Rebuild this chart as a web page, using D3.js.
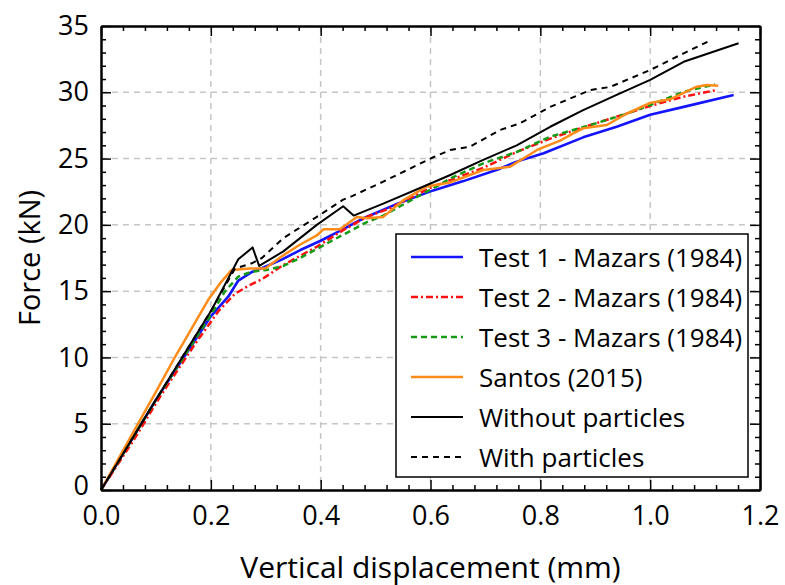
<!DOCTYPE html>
<html lang="en">
<head>
  <meta charset="UTF-8" />
  <title>Force - displacement</title>
  <script src="https://cdn.jsdelivr.net/npm/d3@7/dist/d3.min.js"></script>
  <style>
    body { margin: 0; background: #fff; }
    svg text { font-family: "Open Sans", sans-serif; fill: #000; }
  </style>
</head>
<body>
<script>
    // displacement (mm), force (kN)
    var test1 = [[0,0],[0.1,6.8],[0.2,13.1],[0.232,14.6],[0.25,15.8],[0.275,16.45],[0.297,16.8],[0.33,17.4],[0.363,18.1],[0.4,18.8],[0.435,19.55],[0.478,20.5],[0.54,21.6],[0.605,22.6],[0.66,23.3],[0.724,24.2],[0.757,24.77],[0.806,25.4],[0.878,26.6],[0.939,27.4],[1.0,28.3],[1.061,28.9],[1.152,29.8]];
    var test2 = [[0,0],[0.06,3.8],[0.11,7.2],[0.171,11.0],[0.214,13.5],[0.244,14.8],[0.271,15.46],[0.293,15.9],[0.332,16.97],[0.393,18.35],[0.441,19.6],[0.484,20.6],[0.526,21.25],[0.605,22.9],[0.636,23.38],[0.696,24.3],[0.757,25.5],[0.818,26.5],[0.878,27.36],[0.939,28.16],[1.0,28.97],[1.061,29.67],[1.121,30.17]];
    var test3 = [[0,0],[0.1,6.8],[0.2,13.2],[0.226,15.0],[0.25,16.1],[0.2745,16.47],[0.302,16.6],[0.332,16.9],[0.3625,17.5],[0.423,18.86],[0.484,20.2],[0.514,20.7],[0.575,22.1],[0.611,22.9],[0.636,23.5],[0.696,24.64],[0.757,25.5],[0.818,26.65],[0.891,27.53],[0.951,28.3],[1.0,29.04],[1.061,30.04],[1.118,30.6]];
    var santos = [[0,0],[0.05,3.7],[0.1,7.4],[0.135,10.05],[0.195,14.33],[0.217,15.6],[0.238,16.6],[0.271,16.7],[0.299,16.7],[0.332,17.7],[0.362,18.5],[0.393,19.2],[0.405,19.66],[0.435,19.66],[0.466,20.6],[0.484,20.5],[0.514,20.6],[0.551,21.87],[0.593,22.9],[0.636,23.2],[0.696,24.14],[0.745,24.39],[0.794,25.65],[0.836,26.35],[0.86,26.9],[0.878,27.28],[0.921,27.53],[0.958,28.4],[1.0,29.2],[1.036,29.47],[1.085,30.42],[1.103,30.55],[1.124,30.5]];
    var withoutParticles = [[0,0],[0.1,6.8],[0.2016,13.6],[0.25,17.4],[0.276,18.3],[0.288,16.9],[0.332,18.0],[0.393,20.0],[0.441,21.4],[0.46,20.7],[0.514,21.6],[0.599,23.1],[0.636,23.76],[0.696,24.9],[0.757,26.0],[0.818,27.4],[0.878,28.66],[0.939,29.8],[1.0,30.93],[1.061,32.3],[1.161,33.7]];
    var withParticles = [[0,0],[0.1,6.8],[0.2,13.5],[0.244,16.7],[0.2745,17.1],[0.293,17.5],[0.332,19.0],[0.393,20.6],[0.441,21.9],[0.4536,22.1],[0.514,23.26],[0.5386,23.76],[0.605,25.1],[0.636,25.65],[0.672,25.9],[0.727,27.16],[0.763,27.66],[0.818,28.9],[0.891,30.17],[0.927,30.4],[1.0,31.68],[1.061,32.94],[1.109,33.9]];

    var seriesNames = ["Test 1 - Mazars (1984)", "Test 2 - Mazars (1984)", "Test 3 - Mazars (1984)", "Santos (2015)", "Without particles", "With particles"];
    var xTicks = [0, 0.2, 0.4, 0.6, 0.8, 1.0, 1.2];
    var yTicks = [0, 5, 10, 15, 20, 25, 30, 35];

    var series = [
        {name: seriesNames[0], data: test1, color: "#1414ff", dash: null, w: 2.6},
        {name: seriesNames[1], data: test2, color: "#ff1010", dash: "7,3,2,3", w: 2.5},
        {name: seriesNames[2], data: test3, color: "#169b16", dash: "6,4", w: 2.5},
        {name: seriesNames[3], data: santos, color: "#ff8c1a", dash: null, w: 2.5},
        {name: seriesNames[4], data: withoutParticles, color: "#000", dash: null, w: 2},
        {name: seriesNames[5], data: withParticles, color: "#000", dash: "6,5", w: 2}
    ];

    var W = 785, H = 585;
    var margin = {top: 26, right: 25, bottom: 95, left: 101};
    var width = W - margin.left - margin.right;
    var height = H - margin.top - margin.bottom;

    var svg = d3.select("body").append("svg")
        .attr("width", W).attr("height", H);
    var g = svg.append("g")
        .attr("transform", "translate(" + margin.left + "," + margin.top + ")");

    var x = d3.scaleLinear().domain([0, 1.2]).range([0, width]);
    var y = d3.scaleLinear().domain([0, 35]).range([height, 0]);

    // grid
    g.append("g").selectAll("line")
        .data(xTicks.slice(1, -1)).enter().append("line")
        .attr("x1", d => x(d)).attr("x2", d => x(d))
        .attr("y1", 0).attr("y2", height)
        .attr("stroke", "#c6c6c6").attr("stroke-width", 1.5).attr("stroke-dasharray", "6,5");
    g.append("g").selectAll("line")
        .data(yTicks.slice(1, -1)).enter().append("line")
        .attr("y1", d => y(d)).attr("y2", d => y(d))
        .attr("x1", 0).attr("x2", width)
        .attr("stroke", "#c6c6c6").attr("stroke-width", 1.5).attr("stroke-dasharray", "6,5");

    // curves
    var line = d3.line().x(d => x(d[0])).y(d => y(d[1]));
    g.append("g").selectAll("path")
        .data(series).enter().append("path")
        .attr("d", d => line(d.data))
        .attr("fill", "none")
        .attr("stroke", d => d.color)
        .attr("stroke-width", d => d.w)
        .attr("stroke-linejoin", "round")
        .attr("stroke-dasharray", d => d.dash);

    // axes, ticks pointing inwards on all four sides
    var xMinor = d3.range(0, 1.2001, 0.04).filter(v => Math.abs(v / 0.2 - Math.round(v / 0.2)) > 0.01);
    var yMinor = d3.range(0, 35.5, 1).filter(v => v % 5 != 0);
    var fmtX = d3.format(".1f");

    function styleAxis(sel) {
        sel.select(".domain").attr("stroke-width", 2);
        sel.selectAll(".tick line").attr("stroke-width", 1.5);
        sel.selectAll("text").attr("font-size", 27).attr("font-family", null);
    }

    g.append("g").attr("transform", "translate(0," + height + ")")
        .call(d3.axisBottom(x).tickValues(xTicks).tickFormat(fmtX).tickSize(-10).tickSizeOuter(0).tickPadding(16))
        .call(styleAxis);
    g.append("g").attr("transform", "translate(0," + height + ")")
        .call(d3.axisBottom(x).tickValues(xMinor).tickFormat("").tickSize(-5).tickSizeOuter(0))
        .call(styleAxis);
    g.append("g")
        .call(d3.axisTop(x).tickValues(xTicks).tickFormat("").tickSize(-10).tickSizeOuter(0))
        .call(styleAxis);
    g.append("g")
        .call(d3.axisTop(x).tickValues(xMinor).tickFormat("").tickSize(-5).tickSizeOuter(0))
        .call(styleAxis);

    var yAxisG = g.append("g")
        .call(d3.axisLeft(y).tickValues(yTicks).tickSize(-10).tickSizeOuter(0).tickPadding(12))
        .call(styleAxis);
    // the "0" sits a little above the corner, clear of "0.0"
    yAxisG.selectAll(".tick text").filter(d => d == 0).attr("y", -4);
    g.append("g")
        .call(d3.axisLeft(y).tickValues(yMinor).tickFormat("").tickSize(-5).tickSizeOuter(0))
        .call(styleAxis);
    g.append("g").attr("transform", "translate(" + width + ",0)")
        .call(d3.axisRight(y).tickValues(yTicks).tickFormat("").tickSize(-10).tickSizeOuter(0))
        .call(styleAxis);
    g.append("g").attr("transform", "translate(" + width + ",0)")
        .call(d3.axisRight(y).tickValues(yMinor).tickFormat("").tickSize(-5).tickSizeOuter(0))
        .call(styleAxis);

    // axis titles
    svg.append("text")
        .attr("x", margin.left + width / 2).attr("y", 566)
        .attr("text-anchor", "middle").attr("dominant-baseline", "central")
        .attr("font-size", 30)
        .text("Vertical displacement (mm)");
    svg.append("text")
        .attr("transform", "translate(28," + (margin.top + height / 2) + ") rotate(-90)")
        .attr("text-anchor", "middle").attr("dominant-baseline", "central")
        .attr("font-size", 29)
        .text("Force (kN)");

    // legend
    var lg = svg.append("g").attr("transform", "translate(396,234)");
    lg.append("rect")
        .attr("width", 352).attr("height", 243)
        .attr("fill", "#fff").attr("stroke", "#000").attr("stroke-width", 1.5);
    var items = lg.selectAll(".item").data(series).enter().append("g")
        .attr("transform", (d, i) => "translate(0," + (23 + i * 40) + ")");
    items.append("line")
        .attr("x1", 15).attr("x2", 67)
        .attr("stroke", d => d.color)
        .attr("stroke-width", d => d.w)
        .attr("stroke-dasharray", d => d.dash);
    items.append("text")
        .attr("x", 83).attr("dominant-baseline", "central")
        .attr("font-size", 26)
        .text(d => d.name);
</script>
</body>
</html>
